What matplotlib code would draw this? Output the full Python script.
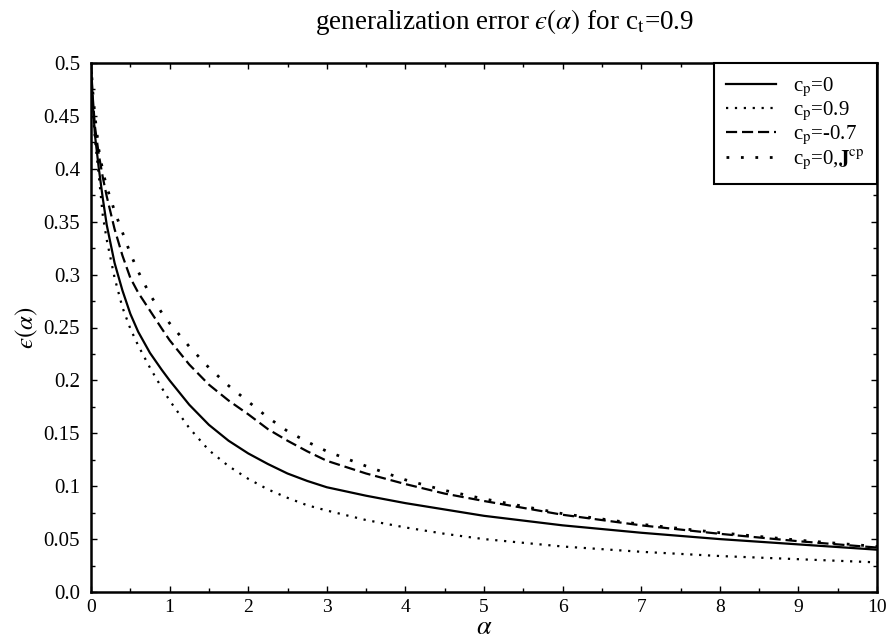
import matplotlib
matplotlib.use("Agg")
import matplotlib.pyplot as plt
from matplotlib.ticker import MultipleLocator, FixedLocator

plt.rcParams['font.family'] = ['Liberation Serif', 'DejaVu Serif']
plt.rcParams['mathtext.fontset'] = 'stix'

# data
alpha = [0, 0.02, 0.05, 0.1, 0.15, 0.2, 0.3, 0.4, 0.5, 0.6, 0.75, 0.9, 1,
         1.25, 1.5, 1.75, 2, 2.25, 2.5, 2.75, 3, 3.5, 4, 4.5, 5, 6, 7, 8, 9, 10]
eps_cp0 = [0.5, 0.465, 0.432, 0.400, 0.372, 0.347, 0.311, 0.285, 0.263, 0.246,
           0.226, 0.210, 0.200, 0.177, 0.158, 0.143, 0.131, 0.121, 0.112,
           0.105, 0.099, 0.091, 0.084, 0.078, 0.072, 0.063, 0.056, 0.050,
           0.045, 0.040]
eps_cp09 = [0.5, 0.460, 0.428, 0.393, 0.356, 0.333, 0.297, 0.269, 0.249, 0.233,
            0.212, 0.193, 0.181, 0.155, 0.134, 0.119, 0.107, 0.097, 0.089,
            0.082, 0.077, 0.068, 0.061, 0.055, 0.050, 0.043, 0.038, 0.034,
            0.031, 0.028]
eps_cpm07 = [0.5, 0.470, 0.440, 0.413, 0.392, 0.374, 0.343, 0.318, 0.297,
             0.283, 0.266, 0.249, 0.238, 0.215, 0.196, 0.181, 0.168, 0.154,
             0.143, 0.133, 0.124, 0.112, 0.102, 0.093, 0.086, 0.073, 0.063,
             0.055, 0.048, 0.042]
eps_cp0_J = [0.5, 0.475, 0.450, 0.418, 0.398, 0.383, 0.360, 0.340, 0.320,
             0.303, 0.281, 0.264, 0.254, 0.232, 0.212, 0.195, 0.180, 0.165,
             0.152, 0.142, 0.133, 0.119, 0.106, 0.096, 0.088, 0.074, 0.064,
             0.056, 0.049, 0.043]

labels = ['c$_\\mathrm{p}$=0', 'c$_\\mathrm{p}$=0.9', 'c$_\\mathrm{p}$=-0.7',
          'c$_\\mathrm{p}$=0,$\\mathbf{J}^\\mathrm{cp}$']
xticks = list(range(0, 11))
yticks = [0.0, 0.05, 0.1, 0.15, 0.2, 0.25, 0.3, 0.35, 0.4, 0.45, 0.5]
ytick_labels = ['0.0', '0.05', '0.1', '0.15', '0.2', '0.25', '0.3', '0.35',
                '0.4', '0.45', '0.5']

fig = plt.figure(figsize=(8.91, 6.43), dpi=100)
ax = fig.add_axes([91/891, 1-592/643, (877-91)/891, (592-63)/643])

ax.plot(alpha, eps_cp0, color='black', lw=1.6, ls='-', label=labels[0])
ax.plot(alpha, eps_cp09, color='black', lw=1.6, ls=(0, (1, 3)), label=labels[1])
ax.plot(alpha, eps_cpm07, color='black', lw=1.6, ls=(0, (5, 2.2)), label=labels[2])
ax.plot(alpha, eps_cp0_J, color='black', lw=2.0, ls=(0, (1, 4.2)), label=labels[3])

ax.set_xlim(0, 10)
ax.set_ylim(0, 0.5)
ax.xaxis.set_major_locator(FixedLocator(xticks))
ax.xaxis.set_minor_locator(MultipleLocator(0.5))
ax.yaxis.set_major_locator(FixedLocator(yticks))
ax.yaxis.set_minor_locator(MultipleLocator(0.025))
ax.set_yticklabels(ytick_labels)
ax.set_xticklabels([str(t) for t in xticks])
ax.tick_params(axis='both', which='both', direction='in', top=True, right=True,
               width=1.0, color='black')
ax.tick_params(axis='both', which='major', length=4)
ax.tick_params(axis='both', which='minor', length=3)
ax.tick_params(axis='x', which='major', labelsize=14, pad=5)
ax.tick_params(axis='y', which='major', labelsize=15, pad=8)
for s in ax.spines.values():
    s.set_linewidth(1.8)

ax.set_xlabel('$\\alpha$', fontsize=19, labelpad=1)
ax.set_ylabel('$\u03f5(\\alpha)$', fontsize=18, labelpad=2)

fig.text(505/891, 1-22/643,
         'generalization error $\u03f5(\\alpha)$ for c$_\\mathrm{t}$=0.9',
         ha='center', va='center', fontsize=19.5)

leg = ax.legend(loc='upper right', borderaxespad=0, fancybox=False,
                edgecolor='black', framealpha=1, fontsize=15, handlelength=2.4,
                labelspacing=0.05, borderpad=0.6, handletextpad=0.8)
leg.get_frame().set_linewidth(1.5)

fig.savefig('out.png', dpi=100)
